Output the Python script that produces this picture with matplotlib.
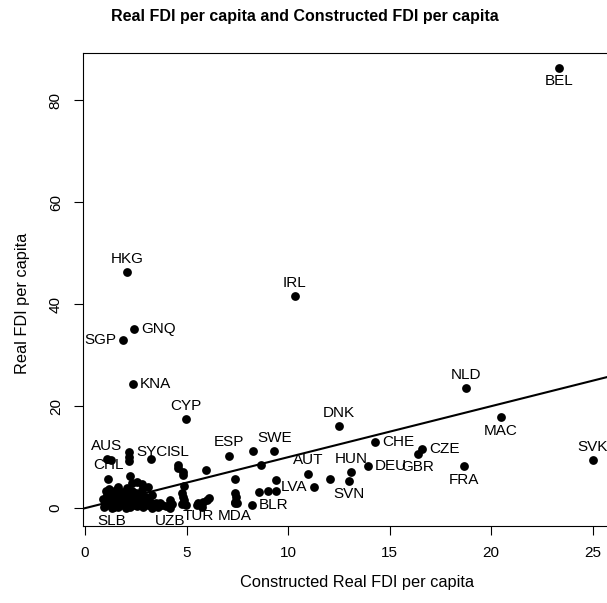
import matplotlib
matplotlib.use("Agg")
import matplotlib.pyplot as plt

plt.rcParams['font.family'] = ['Liberation Sans', 'DejaVu Sans']

# labelled countries: constructed FDI (x), real FDI (y), label position
codes = ["BEL", "HKG", "IRL", "GNQ", "SGP", "KNA", "CYP", "NLD", "MAC", "DNK",
         "CHE", "CZE", "GBR", "DEU", "HUN", "SVN", "AUT", "LVA", "BLR", "SWE",
         "ESP", "FRA", "SVK", "AUS", "CHL", "SYC", "ISL", "SLB", "UZB", "TUR", "MDA"]
lab_x = [23.35, 2.07, 10.34, 2.41, 1.87, 2.36, 4.98, 18.77, 20.5, 12.51,
         14.29, 16.6, 16.4, 13.93, 13.1, 13.0, 11.0, 11.27, 8.23, 9.33,
         7.09, 18.67, 25.02, 1.07, 1.15, 2.18, 4.58, 1.33, 4.19, 5.57, 7.39]
lab_y = [86.3, 46.3, 41.6, 35.1, 32.9, 24.3, 17.5, 23.6, 17.8, 16.1,
         12.9, 11.6, 10.6, 8.2, 7.1, 5.3, 6.8, 4.2, 0.7, 11.2,
         10.3, 8.2, 9.5, 9.7, 5.8, 11.0, 8.4, 0.0, 0.1, 1.0, 1.0]
lab_pos = ["below", "above", "above", "right", "left", "right", "above", "above", "below", "above",
           "right", "right", "below", "right", "above", "below", "above", "left", "right", "above",
           "above", "below", "above", "above", "above", "right", "above", "below", "below", "below", "below"]

# unlabelled countries
other_x = [2.22, 2.3, 2.54, 2.79, 3.12, 4.19, 4.6, 4.84, 4.81, 5.94, 4.89, 4.8, 4.85, 4.88,
           4.8, 4.96, 3.7, 5.5, 5.67, 5.83, 6.0, 6.12, 5.75, 7.39, 7.39, 7.44, 7.39, 7.5,
           8.59, 9.03, 9.41, 9.41, 8.69, 8.29, 12.07, 2.18, 2.16, 1.26, 3.25,
           0.9, 1.0, 1.1, 1.2, 1.3, 1.35, 1.4, 1.5, 1.55, 1.6, 1.65, 1.7, 1.75, 1.8, 1.85,
           1.9, 1.95, 2.0, 2.05, 2.1, 2.15, 2.2, 2.25, 2.3, 2.35, 2.4, 2.45, 2.5, 2.55, 2.6,
           2.7, 2.75, 2.85, 2.9, 3.0, 3.1, 3.2, 3.3, 3.4, 3.5, 3.6, 3.8, 1.2, 1.45, 1.6,
           2.0, 2.8, 3.3, 4.0, 4.3, 0.95, 1.05]
other_y = [6.3, 5.0, 5.2, 4.8, 4.2, 1.6, 7.8, 7.1, 6.6, 7.5, 4.3, 2.9, 2.2, 1.6,
           0.9, 0.6, 1.0, 0.6, 0.9, 1.2, 1.6, 1.9, 0.3, 5.8, 3.0, 2.2, 1.2, 1.0,
           3.2, 3.4, 3.4, 5.5, 8.4, 11.2, 5.75, 10.1, 9.2, 9.5, 9.6,
           1.8, 0.9, 2.5, 1.4, 0.5, 3.0, 2.0, 1.1, 3.6, 0.3, 2.4, 1.7, 0.8, 3.2, 2.8,
           1.3, 0.5, 2.1, 3.9, 1.0, 2.6, 0.2, 1.6, 3.3, 0.7, 2.0, 1.2, 2.9, 0.4, 1.8,
           1.0, 2.4, 0.3, 1.5, 2.1, 0.7, 1.2, 2.6, 0.4, 1.0, 0.2, 0.6, 3.8, 0.2, 4.1,
           0.1, 3.5, 0.1, 0.4, 0.9, 0.2, 3.4]

fig = plt.figure(figsize=(6.07, 6.03), dpi=100)
ax = fig.add_axes([83 / 607, 77 / 603, 529 / 607, 473 / 603])

ax.scatter(other_x + lab_x, other_y + lab_y, s=40, color="black", zorder=3, linewidths=0)
ax.plot([-1, 27], [-1, 27], color="black", lw=1.5, zorder=2)

offsets = {"above": (0, 9.5, "center", "center"), "below": (0, -9.5, "center", "center"),
           "right": (5, 0, "left", "center"), "left": (-5, 0, "right", "center")}
for c, x, y, p in zip(codes, lab_x, lab_y, lab_pos):
    dx, dy, ha, va = offsets[p]
    ax.annotate(c, (x, y), xytext=(dx, dy), textcoords="offset points",
                ha=ha, va=va, fontsize=11, zorder=4)

ax.set_xlim(-0.1, 25.96)
ax.set_ylim(-3.5, 89.3)
ax.set_xticks([0, 5, 10, 15, 20, 25])
ax.set_yticks([0, 20, 40, 60, 80])
ax.tick_params(direction="out", length=6.5, width=0.8, labelsize=11, pad=8)
for lbl in ax.get_yticklabels():
    lbl.set_rotation(90)
    lbl.set_va("center")

# axis titles placed like the R output
fig.text(357 / 607, 1 - 583 / 603, "Constructed Real FDI per capita", fontsize=11.8,
         ha="center", va="center")
fig.text(23 / 607, 1 - 303 / 603, "Real FDI per capita", fontsize=11.8,
         ha="center", va="center", rotation=90)
fig.suptitle("Real FDI per capita and Constructed FDI per capita", fontsize=11.5,
             fontweight="bold", x=305 / 607, y=1 - 17 / 603, va="center")
for s in ax.spines.values():
    s.set_linewidth(0.8)

fig.savefig("out.png", dpi=100)
